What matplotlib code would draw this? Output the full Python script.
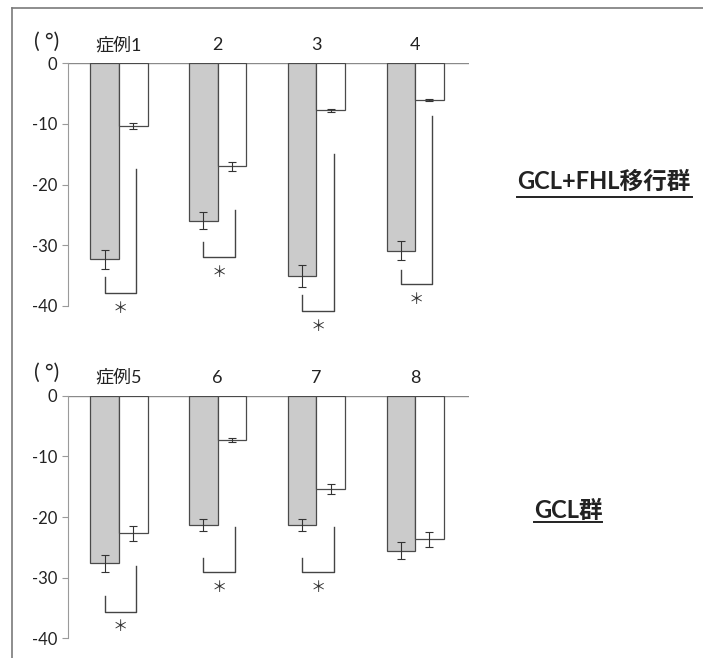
import numpy as np
import matplotlib.pyplot as plt
from matplotlib.lines import Line2D

plt.rcParams['font.family'] = ['Lato', 'Noto Sans CJK JP', 'DejaVu Sans']

# 各症例の角度 (°)：灰=術前, 白=術後
top_cases = ['症例1', '2', '3', '4']
top_pre = [-32.3, -26.0, -35.1, -30.9]
top_pre_err = [1.6, 1.4, 1.8, 1.6]
top_post = [-10.4, -17.0, -7.8, -6.1]
top_post_err = [0.5, 0.7, 0.3, 0.2]

bottom_cases = ['症例5', '6', '7', '8']
bottom_pre = [-27.6, -21.3, -21.3, -25.6]
bottom_pre_err = [1.4, 1.0, 1.0, 1.4]
bottom_post = [-22.7, -7.3, -15.4, -23.7]
bottom_post_err = [1.2, 0.3, 0.8, 1.3]

# 有意差ブラケット (左脚上端, 右脚上端, 横線) / None=なし
top_sig = [(-35.3, -17.4, -37.9), (-29.4, -24.2, -32.0),
           (-38.2, -15.0, -40.8), (-34.1, -8.8, -36.4)]
bottom_sig = [(-33.1, -28.1, -35.6), (-26.7, -21.6, -29.1),
              (-26.7, -21.6, -29.1), None]

W = 0.29
EDGE = '#4a4a4a'


def draw_panel(ax, cases, pre, pre_err, post, post_err, sig):
    x = np.arange(len(cases))
    ax.bar(x - W / 2, pre, W, color='#cbcbcb', edgecolor=EDGE, linewidth=0.9, zorder=2)
    ax.bar(x + W / 2, post, W, color='white', edgecolor=EDGE, linewidth=0.9, zorder=2)
    ax.errorbar(x - W / 2, pre, yerr=pre_err, fmt='none', ecolor='#333333',
                elinewidth=0.8, capsize=3, capthick=0.8, zorder=3)
    ax.errorbar(x + W / 2, post, yerr=post_err, fmt='none', ecolor='#333333',
                elinewidth=0.8, capsize=3, capthick=0.8, zorder=3)
    ax.axhline(0, color='#8a8a8a', lw=1, zorder=1)

    for xi, s in zip(x, sig):
        if s is None:
            continue
        lt, rt, lvl = s
        xl, xr = xi - W / 2, xi + W / 2 + 0.03
        ax.plot([xl, xl, xr, xr], [lt, lvl, lvl, rt], color='#444444', lw=1,
                clip_on=False, zorder=2)
        ax.text((xl + xr) / 2, lvl - 2.5, '＊', ha='center', va='center',
                fontsize=11, color='#333333', clip_on=False,
                family=['Noto Sans CJK JP'])

    for xi, lab in zip(x, cases):
        ax.text(xi, 3.0, lab, ha='center', va='center', fontsize=13,
                color='#222222', clip_on=False)

    ax.set_xlim(-0.515, 3.545)
    ax.set_ylim(-40, 0)
    ax.set_yticks([0, -10, -20, -30, -40])
    ax.set_yticklabels(['0', '-10', '-20', '-30', '-40'])
    ax.set_xticks([])
    for side in ['top', 'right', 'bottom']:
        ax.spines[side].set_visible(False)
    ax.spines['left'].set_color('#9a9a9a')
    ax.tick_params(axis='y', length=4, color='#9a9a9a', labelsize=12,
                   labelcolor='#222222', pad=4)
    ax.patch.set_alpha(0)


fig = plt.figure(figsize=(7.03, 6.58), dpi=100)
fw, fh = 703, 658

ax1 = fig.add_axes([68 / fw, 1 - 306 / fh, 401 / fw, 243 / fh])
ax2 = fig.add_axes([68 / fw, 1 - 638.3 / fh, 401 / fw, 242.6 / fh])

draw_panel(ax1, top_cases, top_pre, top_pre_err, top_post, top_post_err, top_sig)
draw_panel(ax2, bottom_cases, bottom_pre, bottom_pre_err, bottom_post, bottom_post_err, bottom_sig)

# 単位
fig.text(47 / fw, 1 - 42 / fh, '( °)', ha='center', va='center', fontsize=15, color='#222222')
fig.text(47 / fw, 1 - 373 / fh, '( °)', ha='center', va='center', fontsize=15, color='#222222')

# 群名（下線付き）
fig.text(604 / fw, 1 - 181 / fh, 'GCL+FHL移行群', ha='center', va='center',
         fontsize=17, fontweight='bold', color='#222222',
         family=['Lato', 'Noto Sans CJK JP'])
fig.text(568 / fw, 1 - 510 / fh, 'GCL群', ha='center', va='center',
         fontsize=17, fontweight='bold', color='#222222',
         family=['Lato', 'Noto Sans CJK JP'])
fig.add_artist(Line2D([517 / fw, 692 / fw], [1 - 197 / fh, 1 - 197 / fh],
                      color='#222222', lw=1.4, transform=fig.transFigure))
fig.add_artist(Line2D([534 / fw, 602 / fw], [1 - 522 / fh, 1 - 522 / fh],
                      color='#222222', lw=1.4, transform=fig.transFigure))

# 枠線
fig.add_artist(Line2D([12 / fw, 1], [1 - 8 / fh, 1 - 8 / fh], color='#7a7a7a',
                      lw=1.2, transform=fig.transFigure))
fig.add_artist(Line2D([12 / fw, 12 / fw], [0, 1 - 8 / fh], color='#7a7a7a',
                      lw=1.2, transform=fig.transFigure))

fig.savefig('out.png', dpi=100)
